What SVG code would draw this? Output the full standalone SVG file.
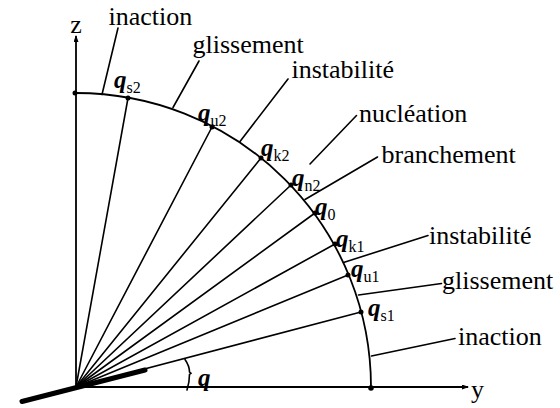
<svg xmlns="http://www.w3.org/2000/svg" width="560" height="408" viewBox="0 0 560 408">
<style>
.ln{stroke:#000;stroke-width:1.6;fill:none;stroke-linecap:round}
.ax{stroke:#000;stroke-width:1.8;fill:none}
text{font-family:"Liberation Serif","Times New Roman",serif;fill:#000}
.lbl{font-size:26px}
.q{font-size:25px;font-weight:bold;font-style:italic}
.sub{font-size:16px;font-weight:normal;font-style:normal}
.dot{fill:#000}
</style>
<defs>
<marker id="arr" markerWidth="7" markerHeight="5" refX="6" refY="2.5" orient="auto" markerUnits="userSpaceOnUse">
<path d="M0,0 L7,2.5 L0,5 Z" fill="#000"/>
</marker>
</defs>
<rect width="560" height="408" fill="#fff"/>
<g id="axes">
<line class="ax" x1="76" y1="387" x2="76" y2="36" marker-end="url(#arr)"/>
<line class="ax" x1="76" y1="387" x2="468" y2="387" marker-end="url(#arr)"/>
<text class="lbl" x="76" y="33" text-anchor="middle">z</text>
<text class="lbl" x="471" y="398">y</text>
</g>
<g id="arc">
<path class="ax" d="M76 93 A295 294 0 0 1 371 387"/>
<circle class="dot" cx="75" cy="93" r="2.5"/>
<circle class="dot" cx="371" cy="388" r="2.8"/>
</g>
<g id="rays">
<line class="ln" x1="76" y1="387" x2="361" y2="312"/>
<line class="ln" x1="76" y1="387" x2="348" y2="275"/>
<line class="ln" x1="76" y1="387" x2="335" y2="244"/>
<line class="ln" x1="76" y1="387" x2="315" y2="213"/>
<line class="ln" x1="76" y1="387" x2="291" y2="185"/>
<line class="ln" x1="76" y1="387" x2="261" y2="158"/>
<line class="ln" x1="76" y1="387" x2="212" y2="127"/>
<line class="ln" x1="76" y1="387" x2="128" y2="98"/>
<line x1="22" y1="401.5" x2="145" y2="370" stroke="#000" stroke-width="5" stroke-linecap="round"/>
<circle class="dot" cx="361" cy="312" r="2.5"/>
<circle class="dot" cx="348" cy="275" r="2.5"/>
<circle class="dot" cx="335" cy="244" r="2.5"/>
<circle class="dot" cx="315" cy="213" r="2.5"/>
<circle class="dot" cx="291" cy="185" r="2.5"/>
<circle class="dot" cx="261" cy="158" r="2.5"/>
<circle class="dot" cx="212" cy="127" r="2.5"/>
<circle class="dot" cx="128" cy="98" r="2.5"/>
<path class="ln" d="M185 359.5 Q189.5 366 189.5 372 L191 373.3 L189.5 374.5 Q189.5 382 187 390"/>
<text class="q" x="198" y="386">q</text>
</g>
<g id="connectors">
<line class="ln" x1="102" y1="94.5" x2="118" y2="28"/>
<line class="ln" x1="173" y1="107.5" x2="199" y2="61"/>
<line class="ln" x1="240" y1="141.5" x2="288" y2="79"/>
<line class="ln" x1="310" y1="164" x2="356.5" y2="115.5"/>
<line class="ln" x1="305" y1="199.5" x2="377.5" y2="157"/>
<line class="ln" x1="343.5" y1="262.5" x2="428" y2="235.5"/>
<line class="ln" x1="358.5" y1="295" x2="441.5" y2="283.5"/>
<line class="ln" x1="371.5" y1="356" x2="455" y2="338.5"/>
</g>
<g id="labels">
<text class="lbl" x="108.5" y="24.5">inaction</text>
<text class="lbl" x="192.5" y="53">glissement</text>
<text class="lbl" x="291.5" y="78">instabilité</text>
<text class="lbl" x="359" y="122">nucléation</text>
<text class="lbl" x="381.5" y="163">branchement</text>
<text class="lbl" x="429" y="244">instabilité</text>
<text class="lbl" x="442" y="289">glissement</text>
<text class="lbl" x="458" y="345">inaction</text>
</g>
<g id="q-labels">
<text class="q" x="114" y="88">q<tspan class="sub" dy="5">s2</tspan></text>
<text class="q" x="198" y="121">q<tspan class="sub" dy="5">u2</tspan></text>
<text class="q" x="261" y="156">q<tspan class="sub" dy="5">k2</tspan></text>
<text class="q" x="292" y="186">q<tspan class="sub" dy="5">n2</tspan></text>
<text class="q" x="315" y="215">q<tspan class="sub" dy="5">0</tspan></text>
<text class="q" x="336" y="247">q<tspan class="sub" dy="5">k1</tspan></text>
<text class="q" x="351" y="277">q<tspan class="sub" dy="5">u1</tspan></text>
<text class="q" x="368" y="316">q<tspan class="sub" dy="5">s1</tspan></text>
</g>
</svg>
